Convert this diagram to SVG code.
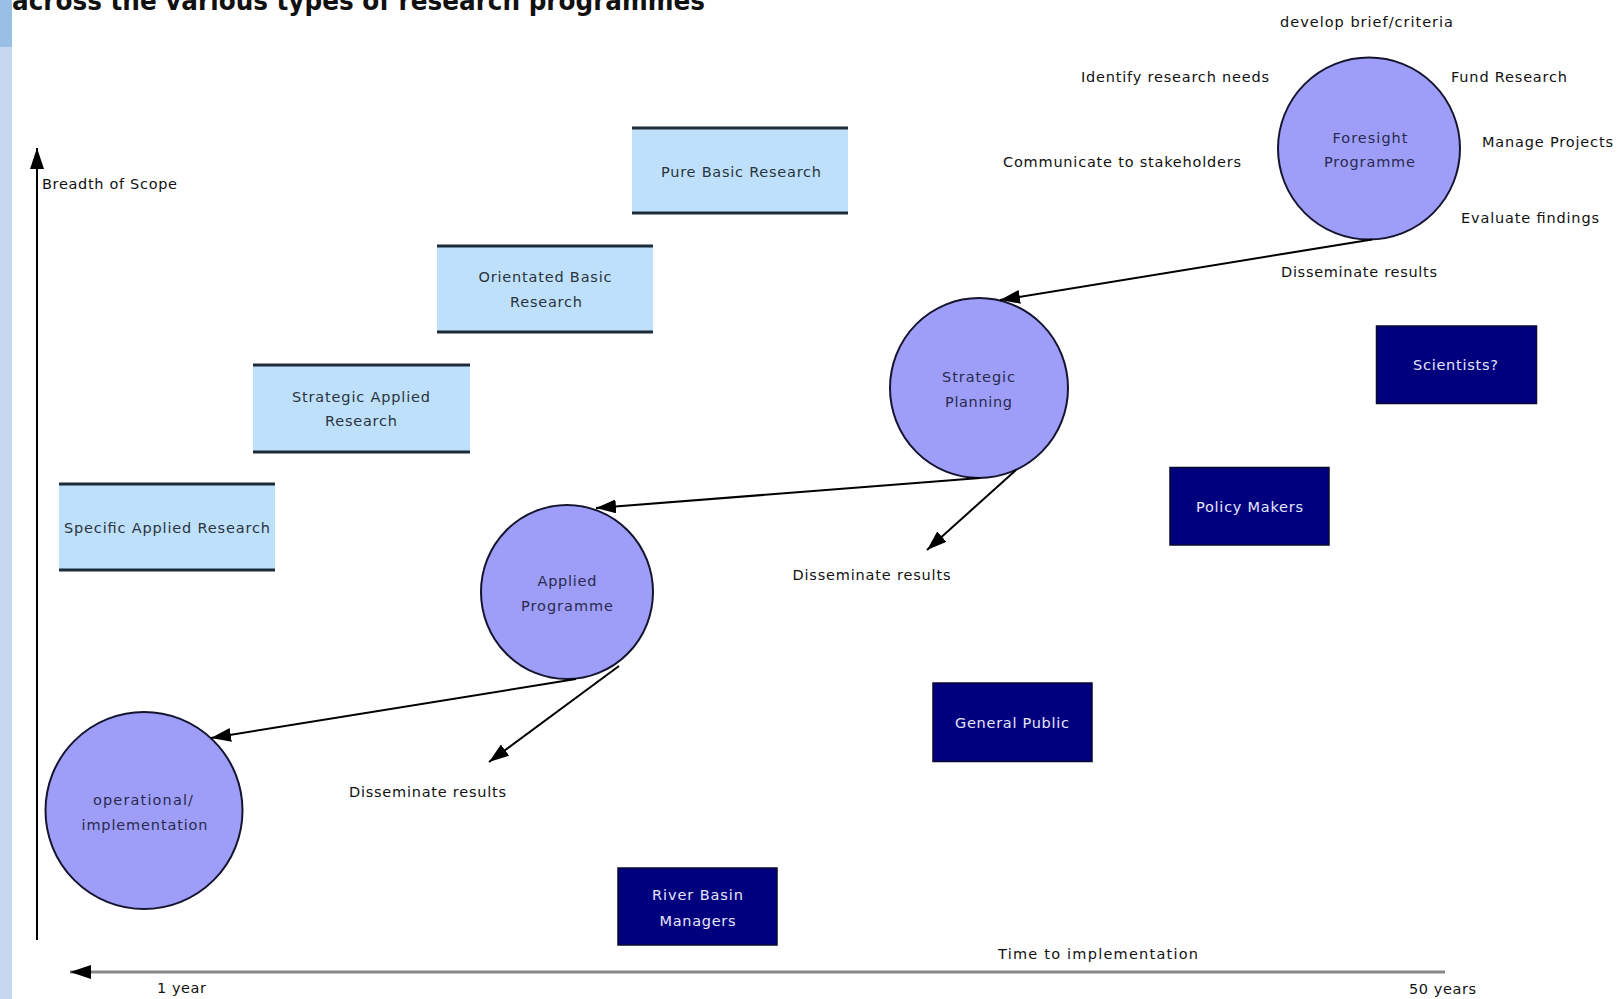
<svg xmlns="http://www.w3.org/2000/svg" width="1618" height="999" viewBox="0 0 1618 999">
<defs>
<marker id="ah" markerUnits="userSpaceOnUse" markerWidth="22" markerHeight="16" refX="20" refY="7" orient="auto">
<path d="M0,0 L20,7 L0,14 Z" fill="#000"/>
</marker>
<marker id="axh" markerUnits="userSpaceOnUse" markerWidth="22" markerHeight="16" refX="21" refY="7" orient="auto">
<path d="M0,0 L21,7 L0,14 Z" fill="#000"/>
</marker>
<style>
text{font-family:"DejaVu Sans","Liberation Sans",sans-serif;font-size:14.5px}
.lbl{fill:#111}
.bt{fill:#2a3440;text-anchor:middle}
.ct{fill:#2a2a50;text-anchor:middle}
.dt{fill:#e6e6ff;text-anchor:middle}
.lb{fill:#bfe0fa}
.edge{stroke:#1e2c3a;stroke-width:3}
.circ{fill:#9e9ef8;stroke:#151530;stroke-width:2}
.dk{fill:#00007e;stroke:#0a0a30;stroke-width:1.5}
.arr{stroke:#000;stroke-width:2;fill:none;marker-end:url(#ah)}
</style>
</defs>
<rect width="1618" height="999" fill="#fff"/>
<rect x="0" y="0" width="12" height="999" fill="#c6d9f1"/>
<rect x="0" y="0" width="12" height="47" fill="#98c0e4"/>
<text x="12" y="10" style="font-size:26px;font-weight:bold" fill="#111" textLength="693" lengthAdjust="spacingAndGlyphs">across the various types of research programmes</text>

<g id="axes">
<line x1="37" y1="940" x2="37" y2="148" stroke="#000" stroke-width="2" marker-end="url(#axh)"/>
<line x1="1445" y1="972" x2="70" y2="972" stroke="#888" stroke-width="3"/>
<path d="M70,972 L91,965 L91,979 Z" fill="#000"/>
<text class="lbl" x="42" y="189" textLength="135">Breadth of Scope</text>
<text class="lbl" x="998" y="959" textLength="200">Time to  implementation</text>
<text class="lbl" x="157" y="993" textLength="49">1 year</text>
<text class="lbl" x="1409" y="994" textLength="67">50 years</text>
</g>

<g id="pure-basic">
<rect class="lb" x="632" y="128" width="216" height="85"/>
<line class="edge" x1="632" y1="128" x2="848" y2="128"/>
<line class="edge" x1="632" y1="213" x2="848" y2="213"/>
<text class="bt" x="741" y="176.5" textLength="160">Pure Basic Research</text>
</g>
<g id="orientated-basic">
<rect class="lb" x="437" y="246" width="216" height="86"/>
<line class="edge" x1="437" y1="246" x2="653" y2="246"/>
<line class="edge" x1="437" y1="332" x2="653" y2="332"/>
<text class="bt" x="545" y="281.5" textLength="133">Orientated Basic</text>
<text class="bt" x="546" y="306.5" textLength="72">Research</text>
</g>
<g id="strategic-applied">
<rect class="lb" x="253" y="365" width="217" height="87"/>
<line class="edge" x1="253" y1="365" x2="470" y2="365"/>
<line class="edge" x1="253" y1="452" x2="470" y2="452"/>
<text class="bt" x="361" y="401.5" textLength="138">Strategic Applied</text>
<text class="bt" x="361" y="426" textLength="72">Research</text>
</g>
<g id="specific-applied">
<rect class="lb" x="59" y="484" width="216" height="86"/>
<line class="edge" x1="59" y1="484" x2="275" y2="484"/>
<line class="edge" x1="59" y1="570" x2="275" y2="570"/>
<text class="bt" x="167" y="532.5" textLength="206">Specific Applied Research</text>
</g>

<g id="foresight">
<ellipse class="circ" cx="1369" cy="148.5" rx="91" ry="91"/>
<text class="ct" x="1370" y="142.5" textLength="75">Foresight</text>
<text class="ct" x="1369.5" y="167" textLength="91">Programme</text>
</g>
<g id="strategic-planning">
<ellipse class="circ" cx="979" cy="388" rx="89" ry="90"/>
<text class="ct" x="978.5" y="382" textLength="73">Strategic</text>
<text class="ct" x="978.5" y="406.5" textLength="67">Planning</text>
</g>
<g id="applied-programme">
<ellipse class="circ" cx="567" cy="592" rx="86" ry="87"/>
<text class="ct" x="567" y="586" textLength="59">Applied</text>
<text class="ct" x="567" y="611" textLength="92">Programme</text>
</g>
<g id="operational">
<ellipse class="circ" cx="144" cy="810.5" rx="98.5" ry="98.5"/>
<text class="ct" x="143" y="805" textLength="100">operational/</text>
<text class="ct" x="144.5" y="830" textLength="126">implementation</text>
</g>

<g id="scientists">
<rect class="dk" x="1376.5" y="326" width="160" height="77.5"/>
<text class="dt" x="1455.5" y="369.5" textLength="85">Scientists?</text>
</g>
<g id="policy-makers">
<rect class="dk" x="1170" y="467.5" width="159" height="77.5"/>
<text class="dt" x="1249.5" y="512" textLength="107">Policy Makers</text>
</g>
<g id="general-public">
<rect class="dk" x="933" y="683" width="159" height="78.5"/>
<text class="dt" x="1012" y="728" textLength="114">General Public</text>
</g>
<g id="river-basin">
<rect class="dk" x="618" y="868" width="159" height="77"/>
<text class="dt" x="697.5" y="900" textLength="91">River Basin</text>
<text class="dt" x="697.5" y="926" textLength="76">Managers</text>
</g>

<g id="activity-labels">
<text class="lbl" x="1280" y="27" textLength="173">develop brief/criteria</text>
<text class="lbl" x="1081" y="82" textLength="188">Identify research needs</text>
<text class="lbl" x="1451" y="82" textLength="116">Fund Research</text>
<text class="lbl" x="1482" y="147" textLength="131">Manage Projects</text>
<text class="lbl" x="1003" y="167" textLength="238">Communicate to stakeholders</text>
<text class="lbl" x="1461" y="223" textLength="138">Evaluate findings</text>
<text class="lbl" x="1281" y="276.5" textLength="156">Disseminate results</text>
<text class="lbl" x="792.5" y="580" textLength="158">Disseminate results</text>
<text class="lbl" x="349" y="797" textLength="157">Disseminate results</text>
</g>

<g id="connectors">
<line class="arr" x1="1372" y1="239.5" x2="1000" y2="300"/>
<line class="arr" x1="980" y1="478" x2="596" y2="508"/>
<line class="arr" x1="1016" y1="470" x2="927" y2="550"/>
<line class="arr" x1="576" y1="679" x2="211" y2="738"/>
<line class="arr" x1="619" y1="666" x2="489" y2="762"/>
</g>
</svg>
